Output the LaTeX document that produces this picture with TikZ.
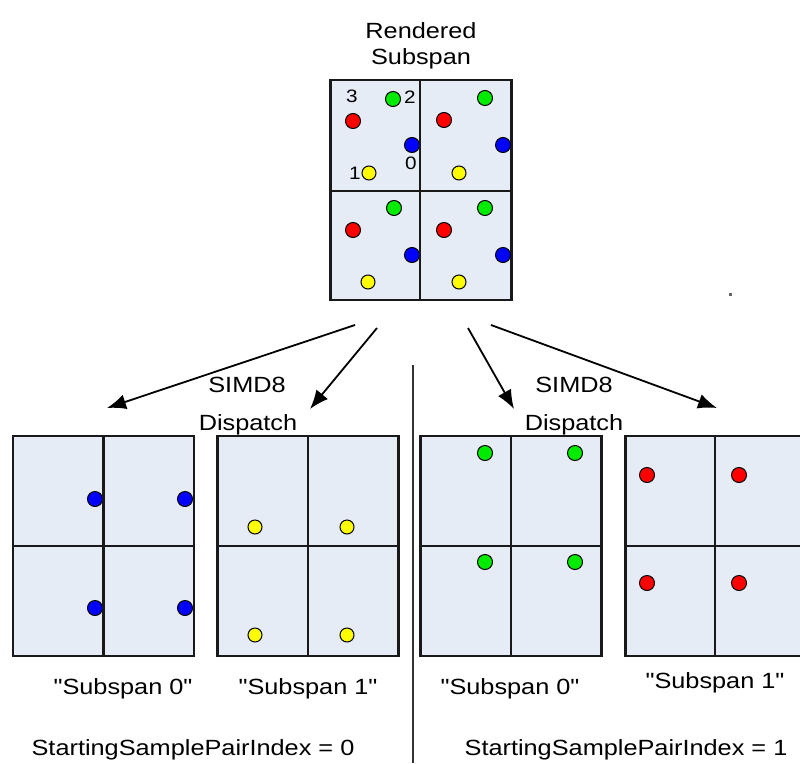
\documentclass[tikz,border=0pt]{standalone}
\usepackage{fontspec}
\setmainfont{Liberation Sans}[FakeStretch=1.15]
\newfontfamily\plainsans{Liberation Sans}[FakeStretch=1.15, Ligatures=ResetAll]
\usetikzlibrary{arrows.meta}
\definecolor{panelfill}{RGB}{230,236,246}
\definecolor{dred}{RGB}{255,0,0}
\definecolor{dgreen}{RGB}{0,235,0}
\definecolor{dblue}{RGB}{0,0,255}
\definecolor{dyellow}{RGB}{255,255,0}
\begin{document}
\begin{tikzpicture}[x=1pt,y=-1pt,
  panel/.style={draw=black!90, line width=2.8pt, fill=panelfill, minimum width=181pt, minimum height=220pt, inner sep=0pt, outer sep=0pt},
  divider/.style={draw=black!90, line width=2.2pt},
  sdot/.style={draw=black, line width=1pt},
  txt/.style={font=\fontsize{22}{26}\selectfont, anchor=base, inner sep=0pt},
  qtxt/.style={font=\plainsans\fontsize{22}{26}\selectfont, anchor=base, inner sep=0pt},
  lbl/.style={font=\fontsize{18}{20}\selectfont, inner sep=0pt},
  arr/.style={draw=black, line width=1.8pt, -{Latex[length=19pt,width=15pt]}},
  sep/.style={draw=black!80, line width=2pt}]
\useasboundingbox (0,0) rectangle (800,763);
\clip (0,0) rectangle (800,763);

% titles
\node[txt] (tRendered) at (421,38) {Rendered};
\node[txt] (tSubspan) at (421,64) {Subspan};

% top panel
\node[panel] (top) at (421,190) {};
\filldraw[sdot, fill=dgreen] (393,99) circle[radius=7.5];
\filldraw[sdot, fill=dred] (353,121) circle[radius=7.5];
\filldraw[sdot, fill=dblue] (412,145) circle[radius=7.5];
\filldraw[sdot, fill=dyellow] (369,173) circle[radius=7];
\filldraw[sdot, fill=dgreen] (485,98) circle[radius=7.5];
\filldraw[sdot, fill=dred] (444,120) circle[radius=7.5];
\filldraw[sdot, fill=dblue] (503,145) circle[radius=7.5];
\filldraw[sdot, fill=dyellow] (459,173) circle[radius=7];
\filldraw[sdot, fill=dgreen] (394,208) circle[radius=7.5];
\filldraw[sdot, fill=dred] (353,230) circle[radius=7.5];
\filldraw[sdot, fill=dblue] (412,255) circle[radius=7.5];
\filldraw[sdot, fill=dyellow] (368,282) circle[radius=7];
\filldraw[sdot, fill=dgreen] (485,208) circle[radius=7.5];
\filldraw[sdot, fill=dred] (444,230) circle[radius=7.5];
\filldraw[sdot, fill=dblue] (503,255) circle[radius=7.5];
\filldraw[sdot, fill=dyellow] (459,282) circle[radius=7];
\draw[divider] (420,80) -- (420,300);
\draw[divider] (331,191) -- (511,191);
\node[lbl] (n3) at (352,96) {3};
\node[lbl] (n2) at (410,97) {2};
\node[lbl] (n0) at (411,163) {0};
\node[lbl] (n1) at (355,173) {1};

% arrows
\coordinate (a1s) at (355,325);
\coordinate (a1e) at (107,408);
\coordinate (a2s) at (377,328);
\coordinate (a2e) at (310,409);
\coordinate (a3s) at (468,328);
\coordinate (a3e) at (514,409);
\coordinate (a4s) at (491,325);
\coordinate (a4e) at (717,408);
\draw[arr] (a1s) -- (a1e);
\draw[arr] (a2s) -- (a2e);
\draw[arr] (a3s) -- (a3e);
\draw[arr] (a4s) -- (a4e);

% separator
\coordinate (sepTop) at (413,365);
\coordinate (sepBot) at (413,763);
\draw[sep] (sepTop) -- (sepBot);

% dispatch labels
\node[txt] (simdL) at (247,392) {SIMD8};
\node[txt] (dispL) at (248,430) {Dispatch};
\node[txt] (simdR) at (574,392) {SIMD8};
\node[txt] (dispR) at (574,430) {Dispatch};

% lower panels
\node[panel] (pA) at (103.5,546) {};
\node[panel] (pB) at (308,546) {};
\node[panel] (pC) at (511,546) {};
\node[panel] (pD) at (716,546) {};

% panel A: blue
\filldraw[sdot, fill=dblue] (95,499) circle[radius=7.5];
\filldraw[sdot, fill=dblue] (185,499) circle[radius=7.5];
\filldraw[sdot, fill=dblue] (95,608) circle[radius=7.5];
\filldraw[sdot, fill=dblue] (185,608) circle[radius=7.5];
% panel B: yellow
\filldraw[sdot, fill=dyellow] (255,527) circle[radius=7];
\filldraw[sdot, fill=dyellow] (347,527) circle[radius=7];
\filldraw[sdot, fill=dyellow] (255,635) circle[radius=7];
\filldraw[sdot, fill=dyellow] (347,635) circle[radius=7];
% panel C: green
\filldraw[sdot, fill=dgreen] (485,453) circle[radius=7.5];
\filldraw[sdot, fill=dgreen] (575,453) circle[radius=7.5];
\filldraw[sdot, fill=dgreen] (485,562) circle[radius=7.5];
\filldraw[sdot, fill=dgreen] (575,562) circle[radius=7.5];
% panel D: red
\filldraw[sdot, fill=dred] (647,475) circle[radius=7.5];
\filldraw[sdot, fill=dred] (739,475) circle[radius=7.5];
\filldraw[sdot, fill=dred] (647,583) circle[radius=7.5];
\filldraw[sdot, fill=dred] (739,583) circle[radius=7.5];

\draw[divider] (pA.north) -- (pA.south);
\draw[divider] (pA.west) -- (pA.east);
\draw[divider] (pB.north) -- (pB.south);
\draw[divider] (pB.west) -- (pB.east);
\draw[divider] (pC.north) -- (pC.south);
\draw[divider] (pC.west) -- (pC.east);
\draw[divider] (715,436) -- (715,656);
\draw[divider] (pD.west) -- (pD.east);

% subspan labels
\node[qtxt] (sA) at (123,694) {"Subspan 0"};
\node[qtxt] (sB) at (308,694) {"Subspan 1"};
\node[qtxt] (sC) at (510,694) {"Subspan 0"};
\node[qtxt] (sD) at (715,688) {"Subspan 1"};

% bottom labels
\node[txt] (idxL) at (193,755) {StartingSamplePairIndex = 0};
\node[txt] (idxR) at (626,755) {StartingSamplePairIndex = 1};

% stray speck
\fill[black!60] (728.5,292.5) rectangle (731.5,295.5);
\end{tikzpicture}
\end{document}
